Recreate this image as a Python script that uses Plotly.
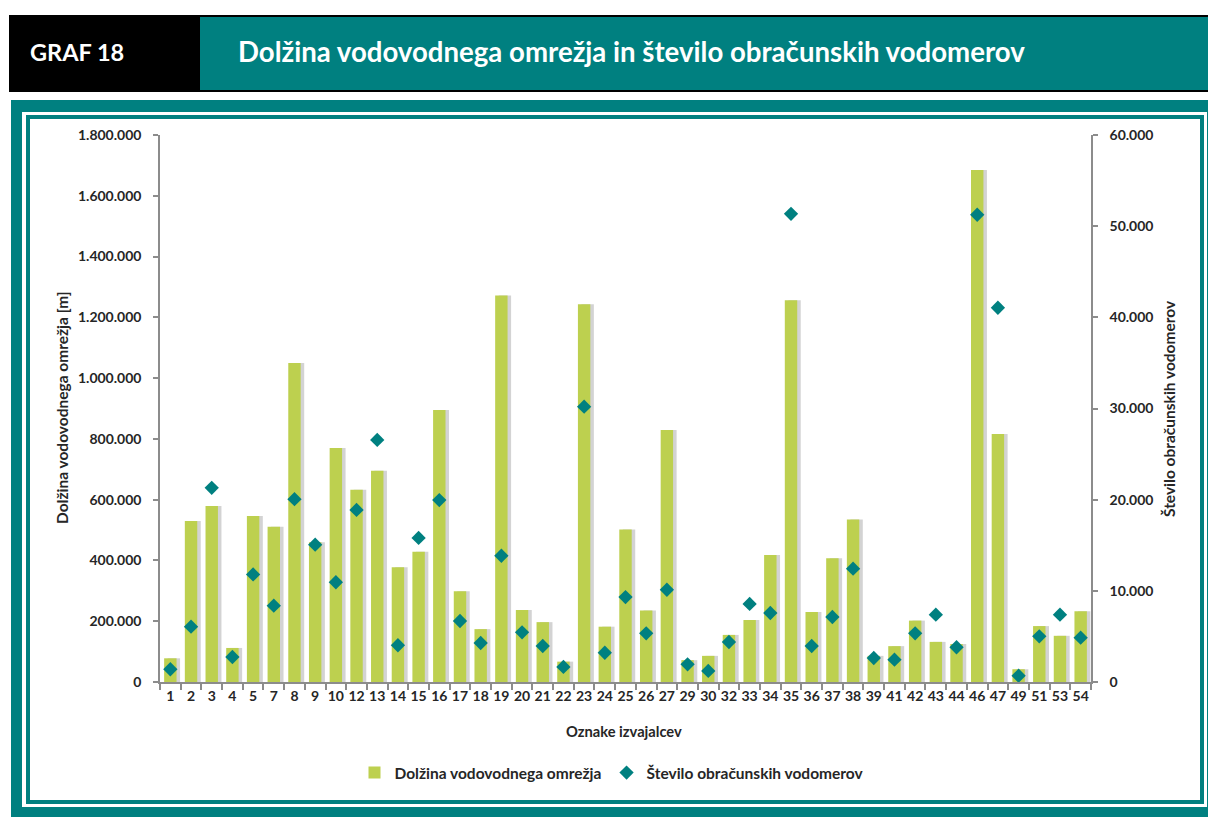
import plotly.graph_objects as go

# ---------------- data ----------------
categories = ["1", "2", "3", "4", "5", "7", "8", "9", "10", "12", "13", "14", "15", "16", "17",
              "18", "19", "20", "21", "22", "23", "24", "25", "26", "27", "29", "30", "32", "33",
              "34", "35", "36", "37", "38", "39", "41", "42", "43", "44", "46", "47", "49", "51",
              "53", "54"]

dolzina_m = [78000, 530000, 579000, 112000, 546000, 511000, 1050000, 460000, 770000, 633000,
             695000, 378000, 429000, 895000, 299000, 174000, 1272000, 237000, 197000, 67000,
             1243000, 182000, 502000, 235000, 829000, 72000, 86000, 155000, 204000, 418000,
             1256000, 230000, 407000, 535000, 86000, 118000, 202000, 132000, 125000, 1685000,
             816000, 42000, 184000, 152000, 233000]

vodomeri = [1400, 6070, 21300, 2740, 11800, 8370, 20050, 15060, 10940, 18870, 26550, 4030,
            15800, 19960, 6690, 4280, 13850, 5450, 3950, 1650, 30200, 3210, 9320, 5340, 10120,
            1940, 1210, 4390, 8560, 7570, 51350, 3950, 7130, 12430, 2630, 2450, 5340, 7380,
            3810, 51250, 41050, 690, 5010, 7380, 4860]

left_ticks = [0, 200000, 400000, 600000, 800000, 1000000, 1200000, 1400000, 1600000, 1800000]
right_ticks = [0, 10000, 20000, 30000, 40000, 50000, 60000]

name_bar = "Dolžina vodovodnega omrežja"
name_pts = "Število obračunskih vodomerov"
header_label = "GRAF 18"
header_title = "Dolžina vodovodnega omrežja in število obračunskih vodomerov"
x_title = "Oznake izvajalcev"
y_title = "Dolžina vodovodnega omrežja [m]"

# ---------------- style ----------------
TEAL = "#008080"
GREEN = "#BDD04F"
FONT = "Lato"
TXT = "#262626"
AX = "#8c8c8c"

W_FIG, H_FIG = 1208, 817
L, R, T, B = 160, 1091, 135, 682
PW, PH = R - L, B - T


def px(x):
    return (x - L) / PW


def py(y):
    return (B - y) / PH


fig = go.Figure()

# shadow of bars
fig.add_trace(go.Bar(
    x=categories, y=dolzina_m, width=0.6, offset=-0.3 + 0.17,
    marker=dict(color="rgba(110,110,110,0.3)", line=dict(width=0)),
    showlegend=False, hoverinfo="skip", yaxis="y"))

fig.add_trace(go.Bar(
    x=categories, y=dolzina_m, width=0.6, offset=-0.3, name=name_bar,
    marker=dict(color=GREEN, line=dict(width=0)), yaxis="y"))

fig.add_trace(go.Scatter(
    x=categories, y=vodomeri, mode="markers", name=name_pts, yaxis="y2",
    marker=dict(symbol="diamond", size=11, color=TEAL, line=dict(width=0))))


def rect(x0, y0, x1, y1, color):
    return dict(type="rect", xref="paper", yref="paper", layer="below",
                x0=px(x0), x1=px(x1), y0=py(y0), y1=py(y1),
                fillcolor=color, line=dict(width=0))


shapes = [
    rect(9, 15, 1210, 92, "#000000"),
    rect(200, 17, 1210, 90, TEAL),
    rect(11, 100, 1210, 820, TEAL),
    rect(22, 112, 1207, 807, "#FFFFFF"),
    rect(26, 115, 1204, 804, TEAL),
    rect(30, 119, 1200, 800, "#FFFFFF"),
]

annotations = [
    dict(text="<b>" + header_label + "</b>", xref="paper", yref="paper",
         x=px(77), y=py(52), xanchor="center", yanchor="middle", showarrow=False,
         font=dict(family=FONT, size=23.5, color="white")),
    dict(text="<b>" + header_title + "</b>", xref="paper", yref="paper",
         x=px(236), y=py(52), xanchor="left", yanchor="middle", showarrow=False,
         font=dict(family=FONT, size=27.6, color="white")),
    dict(text="<b>" + y_title + "</b>", xref="paper", yref="paper",
         x=px(62), y=py(408), xanchor="center", yanchor="middle", showarrow=False,
         textangle=-90, font=dict(family=FONT, size=15.5, color=TXT)),
    dict(text="<b>" + name_pts + "</b>", xref="paper", yref="paper",
         x=px(1169), y=py(409), xanchor="center", yanchor="middle", showarrow=False,
         textangle=-90, font=dict(family=FONT, size=15.5, color=TXT)),
    dict(text="<b>" + x_title + "</b>", xref="paper", yref="paper",
         x=px(624), y=py(731), xanchor="center", yanchor="middle", showarrow=False,
         font=dict(family=FONT, size=14.7, color=TXT)),
]

fig.update_layout(
    width=W_FIG, height=H_FIG,
    margin=dict(l=L, r=W_FIG - R, t=T, b=H_FIG - B, pad=0, autoexpand=False),
    paper_bgcolor="white", plot_bgcolor="rgba(0,0,0,0)",
    separators=",.",
    barmode="overlay",
    font=dict(family=FONT, size=13, color=TXT),
    shapes=shapes,
    annotations=annotations,
    showlegend=True,
    legend=dict(orientation="h", x=px(612), xanchor="center", y=py(773), yanchor="middle",
                font=dict(family=FONT, size=15.5, color=TXT, weight="bold"),
                bgcolor="rgba(0,0,0,0)", itemwidth=30, traceorder="normal"),
    xaxis=dict(type="category", categoryorder="array", categoryarray=categories,
               range=[-0.5, len(categories) - 0.5], tickangle=0,
               showline=True, linecolor=AX, linewidth=1.5, ticks="outside",
               tickson="boundaries", ticklen=6, tickcolor=AX, tickwidth=1.5,
               tickfont=dict(family=FONT, size=14, color=TXT, weight="bold"),
               showgrid=False, zeroline=False, fixedrange=True),
    yaxis=dict(range=[0, 1800000], tickvals=left_ticks, tickformat=",d",
               showline=True, linecolor=AX, linewidth=1.5, ticks="outside",
               ticklen=5, tickcolor=AX, tickwidth=1.5, ticklabelstandoff=9,
               tickfont=dict(family=FONT, size=14, color=TXT, weight="bold"),
               showgrid=False, zeroline=False),
    yaxis2=dict(range=[0, 60000], tickvals=right_ticks, tickformat=",d",
                overlaying="y", side="right",
                showline=True, linecolor=AX, linewidth=1.5, ticks="outside",
                ticklen=5, tickcolor=AX, tickwidth=1.5, ticklabelstandoff=9,
                tickfont=dict(family=FONT, size=14, color=TXT, weight="bold"),
                showgrid=False, zeroline=False),
)

fig.write_html("out.html", config={"displayModeBar": False},
               post_script="document.body.style.margin='0';document.body.style.overflow='hidden';")
